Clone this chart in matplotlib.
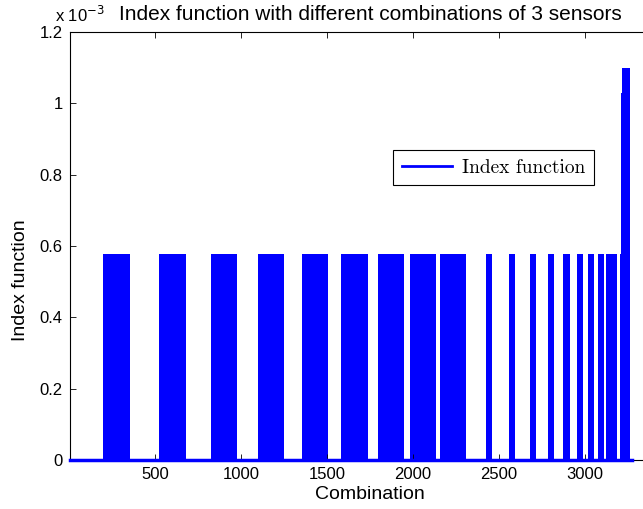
import matplotlib
matplotlib.use("Agg")
import matplotlib.pyplot as plt
from matplotlib.lines import Line2D

# blocks of non-zero index function (combination index)
seg_start = [194, 521, 824, 1100, 1353, 1584, 1794, 1984, 2155, 2424, 2560, 2680,
             2785, 2876, 2954, 3020, 3075, 3125, 3207, 3212, 3220]
seg_end = [351, 676, 976, 1252, 1505, 1736, 1946, 2136, 2307, 2460, 2596, 2716,
           2821, 2912, 2990, 3056, 3111, 3189, 3212, 3220, 3266]
seg_value = [0.577e-3] * 18 + [0.577e-3, 1.03e-3, 1.1e-3]

n_comb = 3276
x_ticks = [500, 1000, 1500, 2000, 2500, 3000]
y_ticks = [0, 0.2e-3, 0.4e-3, 0.6e-3, 0.8e-3, 1.0e-3, 1.2e-3]
y_ticklabels = ["0", "0.2", "0.4", "0.6", "0.8", "1", "1.2"]

plt.rcParams['font.family'] = ['Liberation Sans', 'DejaVu Sans']

fig = plt.figure(figsize=(6.43, 5.09), dpi=100)
ax = fig.add_axes([69.5 / 643, 49 / 509, 601 / 643, 428 / 509])

widths = [e - s for s, e in zip(seg_start, seg_end)]
ax.bar(seg_start, seg_value, width=widths, align="edge", color="blue", linewidth=0)
ax.plot([1, n_comb], [0, 0], color="blue", lw=2.5, clip_on=False, zorder=3)

ax.set_xlim(0, 3500)
ax.set_ylim(0, 1.2e-3)
ax.set_xticks(x_ticks)
ax.set_yticks(y_ticks)
ax.set_yticklabels(y_ticklabels)
ax.tick_params(direction="in", top=True, right=True, length=4, width=0.6,
               labelsize=12, pad=5)
for sp in ax.spines.values():
    sp.set_linewidth(0.8)

ax.set_title("Index function with different combinations of 3 sensors", fontsize=15, pad=9)
ax.set_xlabel("Combination", fontsize=14, labelpad=3)
ax.set_ylabel("Index function", fontsize=14)
ax.yaxis.set_label_coords(-0.068, 0.42)
fig.text(55 / 643, 1 - 22 / 509, r"x 10$^{-3}$", fontsize=12)

handle = Line2D([], [], color="blue", lw=2)
leg = ax.legend([handle], ["Index function"], loc="upper left",
                bbox_to_anchor=(393 / 643, 1 - 150 / 509), bbox_transform=fig.transFigure,
                prop={"family": "cmr10", "size": 14}, fancybox=False, framealpha=1,
                edgecolor="black", handlelength=2.6, handletextpad=0.5,
                borderaxespad=0, borderpad=0.45)
leg.get_frame().set_linewidth(0.8)

fig.savefig("out.png", dpi=100)
